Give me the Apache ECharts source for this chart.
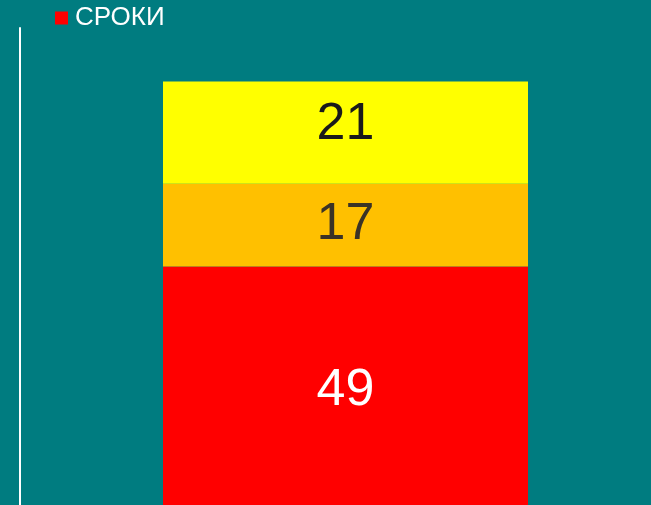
<!DOCTYPE html>
<html>
<head>
<meta charset="utf-8">
<script src="https://cdn.jsdelivr.net/npm/echarts@6/dist/echarts.min.js"></script>
<style>
  html, body { margin: 0; padding: 0; background: #007c80; }
  #chart { width: 651px; height: 505px; }
</style>
</head>
<body>
<div id="chart"></div>
<script>
// категории и значения сегментов
var categories = ["СРОКИ"];
var seriesNames = ["СРОКИ", "Сегмент 2", "Сегмент 3"];
var redValues = [49];
var orangeValues = [17];
var yellowValues = [21];

var myChart = echarts.init(document.getElementById("chart"));

var labelBase = {
  show: true,
  position: "inside",
  fontSize: 52,
  fontFamily: "Liberation Sans, Arial, sans-serif"
};

var option = {
  backgroundColor: "#007c80",
  animation: false,
  textStyle: { fontFamily: "Liberation Sans, Arial, sans-serif" },
  legend: {
    data: [seriesNames[0]],
    left: 55,
    top: 5,
    padding: 0,
    icon: "rect",
    itemWidth: 13,
    itemHeight: 13,
    itemGap: 10,
    textStyle: { color: "#ffffff", fontSize: 26, padding: [0, 0, 0, 2] }
  },
  grid: { left: 40, right: 0, top: 28, bottom: 0 },
  xAxis: {
    type: "category",
    data: categories,
    axisLine: { show: false },
    axisTick: { show: false },
    axisLabel: { show: false }
  },
  yAxis: {
    type: "value",
    min: 0,
    max: 98,
    offset: 20,
    splitLine: { show: false },
    axisTick: { show: false },
    axisLabel: { show: false },
    axisLine: { show: true, lineStyle: { color: "#ffffff", width: 2 } }
  },
  series: [
    {
      name: seriesNames[0],
      type: "bar",
      stack: "all",
      barWidth: 365,
      data: redValues,
      itemStyle: { color: "#ff0000" },
      label: Object.assign({}, labelBase, { color: "#ffffff", offset: [0, 5] })
    },
    {
      name: seriesNames[1],
      type: "bar",
      stack: "all",
      barWidth: 365,
      data: orangeValues,
      itemStyle: { color: "#ffc000" },
      label: Object.assign({}, labelBase, { color: "#3b3326", offset: [0, 0] })
    },
    {
      name: seriesNames[2],
      type: "bar",
      stack: "all",
      barWidth: 365,
      data: yellowValues,
      itemStyle: { color: "#ffff00" },
      label: Object.assign({}, labelBase, { color: "#1a1a1a", offset: [0, -8] })
    }
  ]
};

myChart.setOption(option);
</script>
</body>
</html>
